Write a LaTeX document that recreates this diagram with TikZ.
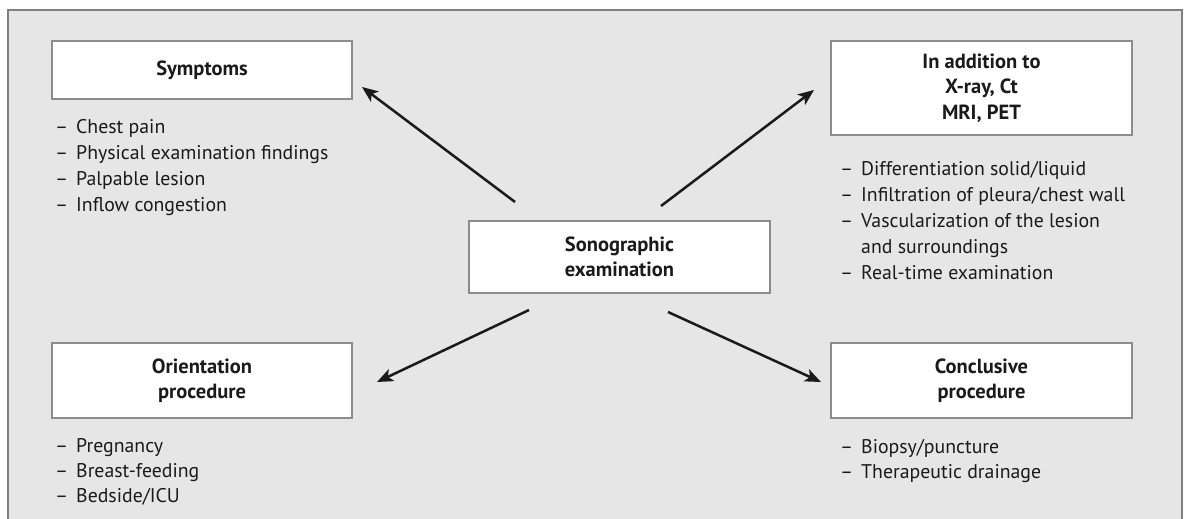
\documentclass[tikz,border=0pt]{standalone}
\usepackage{fontspec}
\setmainfont{PT Sans}
\usetikzlibrary{arrows.meta}
\definecolor{bg}{HTML}{E6E6E6}
\definecolor{framec}{HTML}{7F7F7F}
\definecolor{boxline}{HTML}{8C8C8C}
\definecolor{ink}{HTML}{1A1A1A}
\begin{document}
\begin{tikzpicture}[x=1pt,y=-1pt,
  hbox/.style={draw=boxline, line width=2pt, fill=white, inner sep=0pt, align=center, text=ink, font=\fontsize{20.5}{25.5}\selectfont\bfseries},
  item/.style={anchor=base west, inner sep=0pt, text=ink, font=\fontsize{19.8}{26}\selectfont},
  arr/.style={-{Stealth[length=16pt,width=13pt,inset=4pt]}, line width=2.5pt, draw=ink}]
\useasboundingbox (0,0) rectangle (1187,519);
\fill[white] (0,0) rectangle (1187,519);
\fill[bg] (8,10) rectangle (1182,530);
\draw[framec, line width=2.5pt] (8,530) -- (8,10) -- (1182,10) -- (1182,530);

% boxes
\node[hbox, minimum width=300pt, minimum height=58pt] (symp) at (202,70) {Symptoms};
\node[hbox, minimum width=301pt, minimum height=94pt] (add) at (981.5,88) {In addition to\\X-ray, Ct\\MRI, PET};
\node[hbox, minimum width=301pt, minimum height=72pt] (sono) at (619.5,257) {Sonographic\\examination};
\node[hbox, minimum width=300pt, minimum height=75pt] (orient) at (202,380.5) {Orientation\\procedure};
\node[hbox, minimum width=301pt, minimum height=75pt] (concl) at (981.5,380.5) {Conclusive\\procedure};

% lists
\newcommand{\dsh}{\makebox[21pt][l]{–}}
\node[item] (s1) at (55,133) {\dsh Chest pain};
\node[item] (s2) at (55,159) {\dsh Physical examination findings};
\node[item] (s3) at (55,185) {\dsh Palpable lesion};
\node[item] (s4) at (55,211) {\dsh Inflow congestion};

\node[item] (d1) at (840,175) {\dsh Differentiation solid/liquid};
\node[item] (d2) at (840,201) {\dsh Infiltration of pleura/chest wall};
\node[item] (d3) at (840,227) {\dsh Vascularization of the lesion};
\node[item] (d4) at (840,253) {\hspace*{21pt}and surroundings};
\node[item] (d5) at (840,279) {\dsh Real-time examination};

\node[item] (o1) at (55,452) {\dsh Pregnancy};
\node[item] (o2) at (55,477) {\dsh Breast-feeding};
\node[item] (o3) at (55,502) {\dsh Bedside/ICU};

\node[item] (c1) at (840,453) {\dsh Biopsy/puncture};
\node[item] (c2) at (840,478) {\dsh Therapeutic drainage};

% arrows
\coordinate (a1s) at (515,202); \coordinate (a1e) at (362,87);
\coordinate (a2s) at (661,206); \coordinate (a2e) at (814,90);
\coordinate (a3s) at (529,310); \coordinate (a3e) at (377,382);
\coordinate (a4s) at (668,312); \coordinate (a4e) at (821,382);
\draw[arr] (a1s) -- (a1e);
\draw[arr] (a2s) -- (a2e);
\draw[arr] (a3s) -- (a3e);
\draw[arr] (a4s) -- (a4e);
\end{tikzpicture}
\end{document}
